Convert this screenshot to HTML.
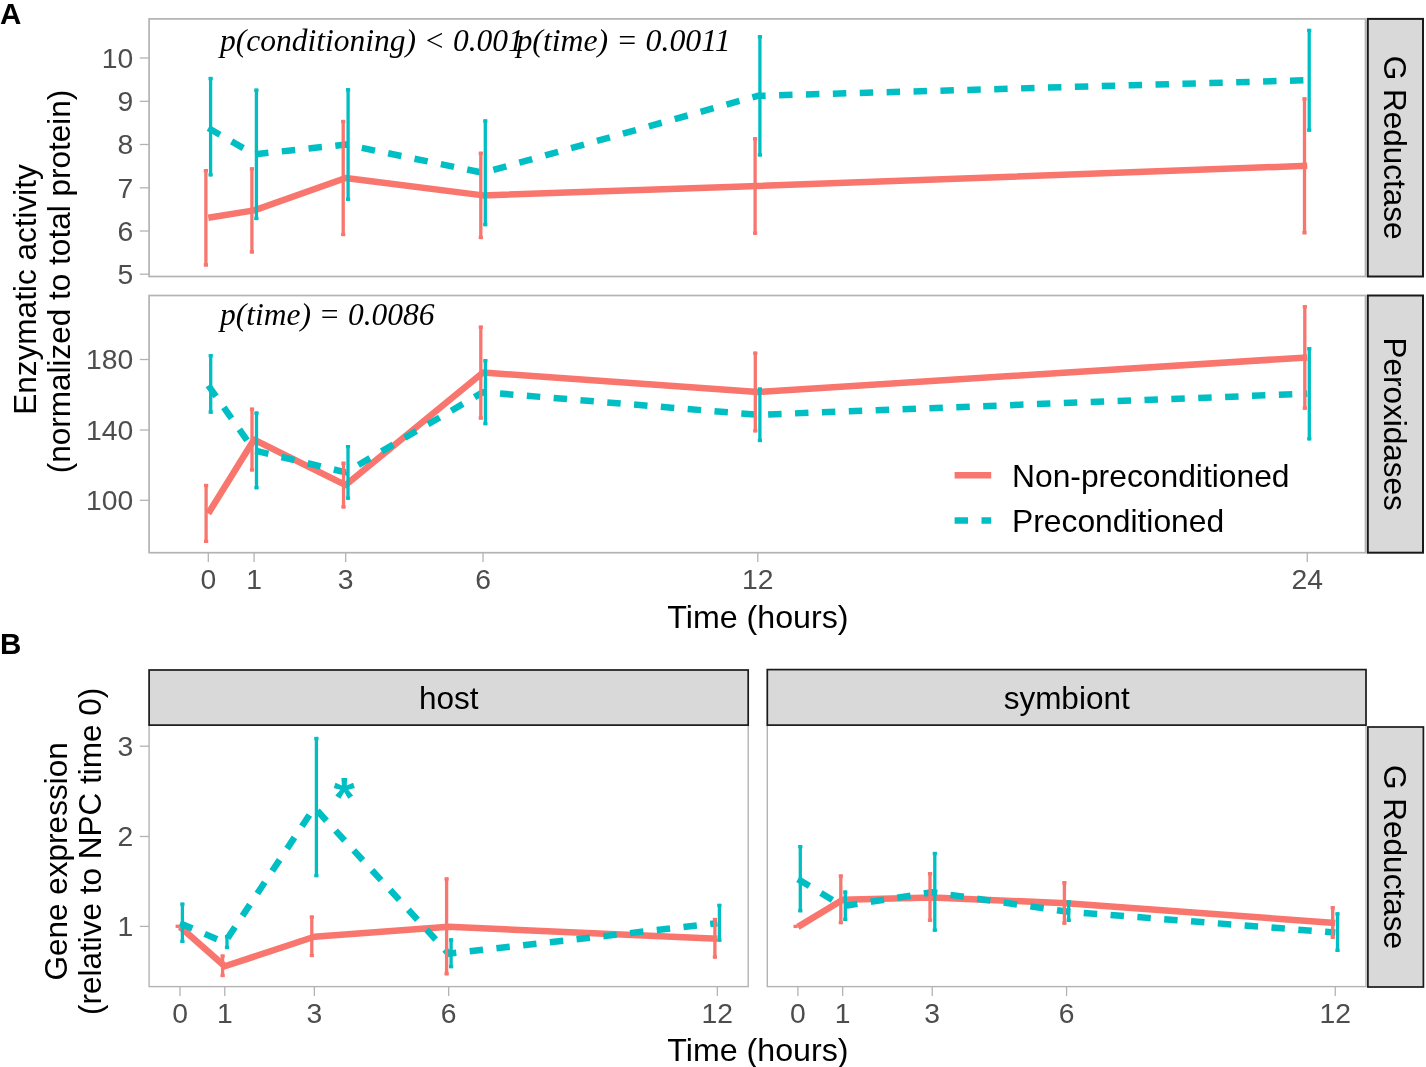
<!DOCTYPE html>
<html><head><meta charset="utf-8"><style>
html,body{margin:0;padding:0;background:#fff;width:1426px;height:1067px;overflow:hidden;position:relative}
</style></head><body>
<svg width="1426" height="1067" viewBox="0 0 1426 1067" style="position:absolute;left:0;top:0;will-change:transform">
<rect width="1426" height="1067" fill="#fff"/>
<rect x="149.1" y="18.9" width="1216.4" height="257.6" fill="none" stroke="#B3B3B3" stroke-width="1.7"/>
<rect x="149.1" y="295.5" width="1216.4" height="257.2" fill="none" stroke="#B3B3B3" stroke-width="1.7"/>
<line x1="139.8" y1="58.0" x2="149.1" y2="58.0" stroke="#B3B3B3" stroke-width="1.3"/>
<text x="133.2" y="67.90" text-anchor="end" font-family='"Liberation Sans", sans-serif' font-size="28.3" fill="#4D4D4D">10</text>
<line x1="139.8" y1="101.3" x2="149.1" y2="101.3" stroke="#B3B3B3" stroke-width="1.3"/>
<text x="133.2" y="111.20" text-anchor="end" font-family='"Liberation Sans", sans-serif' font-size="28.3" fill="#4D4D4D">9</text>
<line x1="139.8" y1="144.5" x2="149.1" y2="144.5" stroke="#B3B3B3" stroke-width="1.3"/>
<text x="133.2" y="154.40" text-anchor="end" font-family='"Liberation Sans", sans-serif' font-size="28.3" fill="#4D4D4D">8</text>
<line x1="139.8" y1="187.8" x2="149.1" y2="187.8" stroke="#B3B3B3" stroke-width="1.3"/>
<text x="133.2" y="197.70" text-anchor="end" font-family='"Liberation Sans", sans-serif' font-size="28.3" fill="#4D4D4D">7</text>
<line x1="139.8" y1="231.0" x2="149.1" y2="231.0" stroke="#B3B3B3" stroke-width="1.3"/>
<text x="133.2" y="240.90" text-anchor="end" font-family='"Liberation Sans", sans-serif' font-size="28.3" fill="#4D4D4D">6</text>
<line x1="139.8" y1="274.2" x2="149.1" y2="274.2" stroke="#B3B3B3" stroke-width="1.3"/>
<text x="133.2" y="284.10" text-anchor="end" font-family='"Liberation Sans", sans-serif' font-size="28.3" fill="#4D4D4D">5</text>
<line x1="139.8" y1="359.5" x2="149.1" y2="359.5" stroke="#B3B3B3" stroke-width="1.3"/>
<text x="133.2" y="369.40" text-anchor="end" font-family='"Liberation Sans", sans-serif' font-size="28.3" fill="#4D4D4D">180</text>
<line x1="139.8" y1="430.0" x2="149.1" y2="430.0" stroke="#B3B3B3" stroke-width="1.3"/>
<text x="133.2" y="439.90" text-anchor="end" font-family='"Liberation Sans", sans-serif' font-size="28.3" fill="#4D4D4D">140</text>
<line x1="139.8" y1="500.3" x2="149.1" y2="500.3" stroke="#B3B3B3" stroke-width="1.3"/>
<text x="133.2" y="510.20" text-anchor="end" font-family='"Liberation Sans", sans-serif' font-size="28.3" fill="#4D4D4D">100</text>
<line x1="208.3" y1="552.7" x2="208.3" y2="562.0" stroke="#B3B3B3" stroke-width="1.3"/>
<text x="208.30" y="588.8" text-anchor="middle" font-family='"Liberation Sans", sans-serif' font-size="28.3" fill="#4D4D4D">0</text>
<line x1="254.09" y1="552.7" x2="254.09" y2="562.0" stroke="#B3B3B3" stroke-width="1.3"/>
<text x="254.09" y="588.8" text-anchor="middle" font-family='"Liberation Sans", sans-serif' font-size="28.3" fill="#4D4D4D">1</text>
<line x1="345.67" y1="552.7" x2="345.67" y2="562.0" stroke="#B3B3B3" stroke-width="1.3"/>
<text x="345.67" y="588.8" text-anchor="middle" font-family='"Liberation Sans", sans-serif' font-size="28.3" fill="#4D4D4D">3</text>
<line x1="483.04" y1="552.7" x2="483.04" y2="562.0" stroke="#B3B3B3" stroke-width="1.3"/>
<text x="483.04" y="588.8" text-anchor="middle" font-family='"Liberation Sans", sans-serif' font-size="28.3" fill="#4D4D4D">6</text>
<line x1="757.78" y1="552.7" x2="757.78" y2="562.0" stroke="#B3B3B3" stroke-width="1.3"/>
<text x="757.78" y="588.8" text-anchor="middle" font-family='"Liberation Sans", sans-serif' font-size="28.3" fill="#4D4D4D">12</text>
<line x1="1307.26" y1="552.7" x2="1307.26" y2="562.0" stroke="#B3B3B3" stroke-width="1.3"/>
<text x="1307.26" y="588.8" text-anchor="middle" font-family='"Liberation Sans", sans-serif' font-size="28.3" fill="#4D4D4D">24</text>
<polyline points="208.30,217.75 254.09,210.40 345.67,178.00 483.04,195.40 757.78,186.00 1307.26,165.80" fill="none" stroke="#F8766D" stroke-width="6.5" stroke-linejoin="round" stroke-linecap="butt"/>
<polyline points="208.30,128.00 254.09,154.35 345.67,144.55 483.04,172.80 757.78,95.85 1307.26,80.25" fill="none" stroke="#00BFC4" stroke-width="6.5" stroke-linejoin="round" stroke-linecap="butt" stroke-dasharray="13.45 13.45"/>
<polyline points="208.30,513.45 254.09,439.55 345.67,485.10 483.04,372.60 757.78,392.00 1307.26,357.40" fill="none" stroke="#F8766D" stroke-width="6.5" stroke-linejoin="round" stroke-linecap="butt"/>
<polyline points="208.30,385.50 254.09,450.40 345.67,472.35 483.04,392.15 757.78,414.80 1307.26,393.75" fill="none" stroke="#00BFC4" stroke-width="6.5" stroke-linejoin="round" stroke-linecap="butt" stroke-dasharray="13.45 13.45"/>
<rect x="208.95" y="76.90" width="3.3" height="99.50" fill="#00BFC4"/>
<rect x="208.50" y="76.90" width="4.2" height="3.3" fill="#00BFC4"/>
<rect x="208.50" y="173.10" width="4.2" height="3.3" fill="#00BFC4"/>
<rect x="254.75" y="88.60" width="3.3" height="131.50" fill="#00BFC4"/>
<rect x="254.30" y="88.60" width="4.2" height="3.3" fill="#00BFC4"/>
<rect x="254.30" y="216.80" width="4.2" height="3.3" fill="#00BFC4"/>
<rect x="346.45" y="88.20" width="3.3" height="112.70" fill="#00BFC4"/>
<rect x="346.00" y="88.20" width="4.2" height="3.3" fill="#00BFC4"/>
<rect x="346.00" y="197.60" width="4.2" height="3.3" fill="#00BFC4"/>
<rect x="483.65" y="119.40" width="3.3" height="106.80" fill="#00BFC4"/>
<rect x="483.20" y="119.40" width="4.2" height="3.3" fill="#00BFC4"/>
<rect x="483.20" y="222.90" width="4.2" height="3.3" fill="#00BFC4"/>
<rect x="758.25" y="35.20" width="3.3" height="121.30" fill="#00BFC4"/>
<rect x="757.80" y="35.20" width="4.2" height="3.3" fill="#00BFC4"/>
<rect x="757.80" y="153.20" width="4.2" height="3.3" fill="#00BFC4"/>
<rect x="1307.55" y="28.80" width="3.3" height="102.90" fill="#00BFC4"/>
<rect x="1307.10" y="28.80" width="4.2" height="3.3" fill="#00BFC4"/>
<rect x="1307.10" y="128.40" width="4.2" height="3.3" fill="#00BFC4"/>
<rect x="204.25" y="169.00" width="3.3" height="97.50" fill="#F8766D"/>
<rect x="203.80" y="169.00" width="4.2" height="3.3" fill="#F8766D"/>
<rect x="203.80" y="263.20" width="4.2" height="3.3" fill="#F8766D"/>
<rect x="250.25" y="167.30" width="3.3" height="86.20" fill="#F8766D"/>
<rect x="249.80" y="167.30" width="4.2" height="3.3" fill="#F8766D"/>
<rect x="249.80" y="250.20" width="4.2" height="3.3" fill="#F8766D"/>
<rect x="341.55" y="119.90" width="3.3" height="116.20" fill="#F8766D"/>
<rect x="341.10" y="119.90" width="4.2" height="3.3" fill="#F8766D"/>
<rect x="341.10" y="232.80" width="4.2" height="3.3" fill="#F8766D"/>
<rect x="479.15" y="151.70" width="3.3" height="87.40" fill="#F8766D"/>
<rect x="478.70" y="151.70" width="4.2" height="3.3" fill="#F8766D"/>
<rect x="478.70" y="235.80" width="4.2" height="3.3" fill="#F8766D"/>
<rect x="753.45" y="137.20" width="3.3" height="97.60" fill="#F8766D"/>
<rect x="753.00" y="137.20" width="4.2" height="3.3" fill="#F8766D"/>
<rect x="753.00" y="231.50" width="4.2" height="3.3" fill="#F8766D"/>
<rect x="1302.85" y="97.30" width="3.3" height="137.00" fill="#F8766D"/>
<rect x="1302.40" y="97.30" width="4.2" height="3.3" fill="#F8766D"/>
<rect x="1302.40" y="231.00" width="4.2" height="3.3" fill="#F8766D"/>
<rect x="209.05" y="354.10" width="3.3" height="59.60" fill="#00BFC4"/>
<rect x="208.60" y="354.10" width="4.2" height="3.3" fill="#00BFC4"/>
<rect x="208.60" y="410.40" width="4.2" height="3.3" fill="#00BFC4"/>
<rect x="254.85" y="411.50" width="3.3" height="77.80" fill="#00BFC4"/>
<rect x="254.40" y="411.50" width="4.2" height="3.3" fill="#00BFC4"/>
<rect x="254.40" y="486.00" width="4.2" height="3.3" fill="#00BFC4"/>
<rect x="346.35" y="445.00" width="3.3" height="54.70" fill="#00BFC4"/>
<rect x="345.90" y="445.00" width="4.2" height="3.3" fill="#00BFC4"/>
<rect x="345.90" y="496.40" width="4.2" height="3.3" fill="#00BFC4"/>
<rect x="483.75" y="359.10" width="3.3" height="66.10" fill="#00BFC4"/>
<rect x="483.30" y="359.10" width="4.2" height="3.3" fill="#00BFC4"/>
<rect x="483.30" y="421.90" width="4.2" height="3.3" fill="#00BFC4"/>
<rect x="758.25" y="387.50" width="3.3" height="54.60" fill="#00BFC4"/>
<rect x="757.80" y="387.50" width="4.2" height="3.3" fill="#00BFC4"/>
<rect x="757.80" y="438.80" width="4.2" height="3.3" fill="#00BFC4"/>
<rect x="1307.65" y="347.10" width="3.3" height="93.30" fill="#00BFC4"/>
<rect x="1307.20" y="347.10" width="4.2" height="3.3" fill="#00BFC4"/>
<rect x="1307.20" y="437.10" width="4.2" height="3.3" fill="#00BFC4"/>
<rect x="204.45" y="483.90" width="3.3" height="59.10" fill="#F8766D"/>
<rect x="204.00" y="483.90" width="4.2" height="3.3" fill="#F8766D"/>
<rect x="204.00" y="539.70" width="4.2" height="3.3" fill="#F8766D"/>
<rect x="250.35" y="407.60" width="3.3" height="63.90" fill="#F8766D"/>
<rect x="249.90" y="407.60" width="4.2" height="3.3" fill="#F8766D"/>
<rect x="249.90" y="468.20" width="4.2" height="3.3" fill="#F8766D"/>
<rect x="341.85" y="461.70" width="3.3" height="46.80" fill="#F8766D"/>
<rect x="341.40" y="461.70" width="4.2" height="3.3" fill="#F8766D"/>
<rect x="341.40" y="505.20" width="4.2" height="3.3" fill="#F8766D"/>
<rect x="479.15" y="325.60" width="3.3" height="94.00" fill="#F8766D"/>
<rect x="478.70" y="325.60" width="4.2" height="3.3" fill="#F8766D"/>
<rect x="478.70" y="416.30" width="4.2" height="3.3" fill="#F8766D"/>
<rect x="753.65" y="351.60" width="3.3" height="80.80" fill="#F8766D"/>
<rect x="753.20" y="351.60" width="4.2" height="3.3" fill="#F8766D"/>
<rect x="753.20" y="429.10" width="4.2" height="3.3" fill="#F8766D"/>
<rect x="1303.15" y="305.10" width="3.3" height="104.60" fill="#F8766D"/>
<rect x="1302.70" y="305.10" width="4.2" height="3.3" fill="#F8766D"/>
<rect x="1302.70" y="406.40" width="4.2" height="3.3" fill="#F8766D"/>
<rect x="1367.8" y="18.9" width="55.2" height="257.6" fill="#D9D9D9" stroke="#1A1A1A" stroke-width="2.0"/>
<text transform="translate(1384.10,147.70) rotate(90)" text-anchor="middle" font-family='"Liberation Sans", sans-serif' font-size="31.5" fill="#000">G Reductase</text>
<rect x="1367.8" y="295.5" width="55.2" height="257.2" fill="#D9D9D9" stroke="#1A1A1A" stroke-width="2.0"/>
<text transform="translate(1384.10,424.10) rotate(90)" text-anchor="middle" font-family='"Liberation Sans", sans-serif' font-size="31.5" fill="#000">Peroxidases</text>
<text x="220" y="51.3" font-family='"Liberation Serif", serif' font-style="italic" font-size="31.5" fill="#000">p(conditioning) &lt; 0.001</text>
<text x="516.4" y="51.3" font-family='"Liberation Serif", serif' font-style="italic" font-size="31.8" fill="#000">p(time) = 0.0011</text>
<text x="220" y="325.1" font-family='"Liberation Serif", serif' font-style="italic" font-size="31.5" fill="#000">p(time) = 0.0086</text>
<line x1="954.6" y1="475.3" x2="991.2" y2="475.3" stroke="#F8766D" stroke-width="6.5"/>
<line x1="954.6" y1="520.5" x2="991.2" y2="520.5" stroke="#00BFC4" stroke-width="6.5" stroke-dasharray="13.45 13.45"/>
<text x="1012" y="486.6" font-family='"Liberation Sans", sans-serif' font-size="31.8" fill="#000">Non-preconditioned</text>
<text x="1012" y="531.5" font-family='"Liberation Sans", sans-serif' font-size="31.8" fill="#000">Preconditioned</text>
<text x="757.9" y="627.8" text-anchor="middle" font-family='"Liberation Sans", sans-serif' font-size="32.2" fill="#000">Time (hours)</text>
<text transform="translate(36.1,289.5) rotate(-90)" text-anchor="middle" font-family='"Liberation Sans", sans-serif' font-size="31.5" fill="#000">Enzymatic activity</text>
<text transform="translate(69.8,281.5) rotate(-90)" text-anchor="middle" font-family='"Liberation Sans", sans-serif' font-size="31.5" fill="#000">(normalized to total protein)</text>
<text x="0" y="23.9" font-family='"Liberation Sans", sans-serif' font-weight="bold" font-size="29.5" fill="#000">A</text>
<text x="0" y="653.7" font-family='"Liberation Sans", sans-serif' font-weight="bold" font-size="29.5" fill="#000">B</text>
<rect x="149.1" y="725.1" width="599.1" height="261.5" fill="none" stroke="#B3B3B3" stroke-width="1.4"/>
<rect x="767.3" y="725.1" width="598.7" height="261.5" fill="none" stroke="#B3B3B3" stroke-width="1.4"/>
<line x1="139.8" y1="746.2" x2="149.1" y2="746.2" stroke="#B3B3B3" stroke-width="1.3"/>
<text x="133.2" y="756.10" text-anchor="end" font-family='"Liberation Sans", sans-serif' font-size="28.3" fill="#4D4D4D">3</text>
<line x1="139.8" y1="836.5" x2="149.1" y2="836.5" stroke="#B3B3B3" stroke-width="1.3"/>
<text x="133.2" y="846.40" text-anchor="end" font-family='"Liberation Sans", sans-serif' font-size="28.3" fill="#4D4D4D">2</text>
<line x1="139.8" y1="926.4" x2="149.1" y2="926.4" stroke="#B3B3B3" stroke-width="1.3"/>
<text x="133.2" y="936.30" text-anchor="end" font-family='"Liberation Sans", sans-serif' font-size="28.3" fill="#4D4D4D">1</text>
<line x1="180.0" y1="986.6" x2="180.0" y2="995.9" stroke="#B3B3B3" stroke-width="1.3"/>
<text x="180.00" y="1023.0" text-anchor="middle" font-family='"Liberation Sans", sans-serif' font-size="28.3" fill="#4D4D4D">0</text>
<line x1="224.78" y1="986.6" x2="224.78" y2="995.9" stroke="#B3B3B3" stroke-width="1.3"/>
<text x="224.78" y="1023.0" text-anchor="middle" font-family='"Liberation Sans", sans-serif' font-size="28.3" fill="#4D4D4D">1</text>
<line x1="314.34" y1="986.6" x2="314.34" y2="995.9" stroke="#B3B3B3" stroke-width="1.3"/>
<text x="314.34" y="1023.0" text-anchor="middle" font-family='"Liberation Sans", sans-serif' font-size="28.3" fill="#4D4D4D">3</text>
<line x1="448.68" y1="986.6" x2="448.68" y2="995.9" stroke="#B3B3B3" stroke-width="1.3"/>
<text x="448.68" y="1023.0" text-anchor="middle" font-family='"Liberation Sans", sans-serif' font-size="28.3" fill="#4D4D4D">6</text>
<line x1="717.36" y1="986.6" x2="717.36" y2="995.9" stroke="#B3B3B3" stroke-width="1.3"/>
<text x="717.36" y="1023.0" text-anchor="middle" font-family='"Liberation Sans", sans-serif' font-size="28.3" fill="#4D4D4D">12</text>
<line x1="797.9" y1="986.6" x2="797.9" y2="995.9" stroke="#B3B3B3" stroke-width="1.3"/>
<text x="797.90" y="1023.0" text-anchor="middle" font-family='"Liberation Sans", sans-serif' font-size="28.3" fill="#4D4D4D">0</text>
<line x1="842.68" y1="986.6" x2="842.68" y2="995.9" stroke="#B3B3B3" stroke-width="1.3"/>
<text x="842.68" y="1023.0" text-anchor="middle" font-family='"Liberation Sans", sans-serif' font-size="28.3" fill="#4D4D4D">1</text>
<line x1="932.24" y1="986.6" x2="932.24" y2="995.9" stroke="#B3B3B3" stroke-width="1.3"/>
<text x="932.24" y="1023.0" text-anchor="middle" font-family='"Liberation Sans", sans-serif' font-size="28.3" fill="#4D4D4D">3</text>
<line x1="1066.58" y1="986.6" x2="1066.58" y2="995.9" stroke="#B3B3B3" stroke-width="1.3"/>
<text x="1066.58" y="1023.0" text-anchor="middle" font-family='"Liberation Sans", sans-serif' font-size="28.3" fill="#4D4D4D">6</text>
<line x1="1335.26" y1="986.6" x2="1335.26" y2="995.9" stroke="#B3B3B3" stroke-width="1.3"/>
<text x="1335.26" y="1023.0" text-anchor="middle" font-family='"Liberation Sans", sans-serif' font-size="28.3" fill="#4D4D4D">12</text>
<polyline points="180.00,926.80 224.78,966.25 314.34,936.75 448.68,926.80 717.36,938.70" fill="none" stroke="#F8766D" stroke-width="6.5" stroke-linejoin="round" stroke-linecap="butt"/>
<polyline points="180.00,923.25 224.78,942.50 314.34,807.50 448.68,953.70 717.36,923.20" fill="none" stroke="#00BFC4" stroke-width="6.5" stroke-linejoin="round" stroke-linecap="butt" stroke-dasharray="13.45 13.45"/>
<polyline points="797.90,926.90 842.68,899.80 932.24,897.40 1066.58,903.35 1335.26,922.95" fill="none" stroke="#F8766D" stroke-width="6.5" stroke-linejoin="round" stroke-linecap="butt"/>
<polyline points="797.90,879.10 842.68,906.20 932.24,892.25 1066.58,911.55 1335.26,932.55" fill="none" stroke="#00BFC4" stroke-width="6.5" stroke-linejoin="round" stroke-linecap="butt" stroke-dasharray="13.45 13.45"/>
<rect x="180.75" y="902.60" width="3.3" height="40.40" fill="#00BFC4"/>
<rect x="180.30" y="902.60" width="4.2" height="3.3" fill="#00BFC4"/>
<rect x="180.30" y="939.70" width="4.2" height="3.3" fill="#00BFC4"/>
<rect x="225.35" y="935.00" width="3.3" height="14.10" fill="#00BFC4"/>
<rect x="224.90" y="935.00" width="4.2" height="3.3" fill="#00BFC4"/>
<rect x="224.90" y="945.80" width="4.2" height="3.3" fill="#00BFC4"/>
<rect x="314.75" y="736.90" width="3.3" height="140.30" fill="#00BFC4"/>
<rect x="314.30" y="736.90" width="4.2" height="3.3" fill="#00BFC4"/>
<rect x="314.30" y="873.90" width="4.2" height="3.3" fill="#00BFC4"/>
<rect x="449.45" y="938.30" width="3.3" height="29.90" fill="#00BFC4"/>
<rect x="449.00" y="938.30" width="4.2" height="3.3" fill="#00BFC4"/>
<rect x="449.00" y="964.90" width="4.2" height="3.3" fill="#00BFC4"/>
<rect x="717.75" y="903.80" width="3.3" height="37.90" fill="#00BFC4"/>
<rect x="717.30" y="903.80" width="4.2" height="3.3" fill="#00BFC4"/>
<rect x="717.30" y="938.40" width="4.2" height="3.3" fill="#00BFC4"/>
<rect x="175.60" y="924.65" width="4.2" height="3.3" fill="#F8766D"/>
<rect x="220.95" y="954.50" width="3.3" height="22.60" fill="#F8766D"/>
<rect x="220.50" y="954.50" width="4.2" height="3.3" fill="#F8766D"/>
<rect x="220.50" y="973.80" width="4.2" height="3.3" fill="#F8766D"/>
<rect x="310.15" y="915.50" width="3.3" height="41.60" fill="#F8766D"/>
<rect x="309.70" y="915.50" width="4.2" height="3.3" fill="#F8766D"/>
<rect x="309.70" y="953.80" width="4.2" height="3.3" fill="#F8766D"/>
<rect x="444.95" y="877.40" width="3.3" height="97.90" fill="#F8766D"/>
<rect x="444.50" y="877.40" width="4.2" height="3.3" fill="#F8766D"/>
<rect x="444.50" y="972.00" width="4.2" height="3.3" fill="#F8766D"/>
<rect x="713.25" y="917.90" width="3.3" height="40.70" fill="#F8766D"/>
<rect x="712.80" y="917.90" width="4.2" height="3.3" fill="#F8766D"/>
<rect x="712.80" y="955.30" width="4.2" height="3.3" fill="#F8766D"/>
<rect x="798.65" y="845.00" width="3.3" height="67.30" fill="#00BFC4"/>
<rect x="798.20" y="845.00" width="4.2" height="3.3" fill="#00BFC4"/>
<rect x="798.20" y="909.00" width="4.2" height="3.3" fill="#00BFC4"/>
<rect x="843.65" y="890.50" width="3.3" height="30.50" fill="#00BFC4"/>
<rect x="843.20" y="890.50" width="4.2" height="3.3" fill="#00BFC4"/>
<rect x="843.20" y="917.70" width="4.2" height="3.3" fill="#00BFC4"/>
<rect x="933.15" y="851.90" width="3.3" height="79.80" fill="#00BFC4"/>
<rect x="932.70" y="851.90" width="4.2" height="3.3" fill="#00BFC4"/>
<rect x="932.70" y="928.40" width="4.2" height="3.3" fill="#00BFC4"/>
<rect x="1067.05" y="900.30" width="3.3" height="21.60" fill="#00BFC4"/>
<rect x="1066.60" y="900.30" width="4.2" height="3.3" fill="#00BFC4"/>
<rect x="1066.60" y="918.60" width="4.2" height="3.3" fill="#00BFC4"/>
<rect x="1335.85" y="912.30" width="3.3" height="39.60" fill="#00BFC4"/>
<rect x="1335.40" y="912.30" width="4.2" height="3.3" fill="#00BFC4"/>
<rect x="1335.40" y="948.60" width="4.2" height="3.3" fill="#00BFC4"/>
<rect x="793.50" y="924.75" width="4.2" height="3.3" fill="#F8766D"/>
<rect x="839.15" y="874.50" width="3.3" height="49.70" fill="#F8766D"/>
<rect x="838.70" y="874.50" width="4.2" height="3.3" fill="#F8766D"/>
<rect x="838.70" y="920.90" width="4.2" height="3.3" fill="#F8766D"/>
<rect x="928.35" y="872.10" width="3.3" height="49.70" fill="#F8766D"/>
<rect x="927.90" y="872.10" width="4.2" height="3.3" fill="#F8766D"/>
<rect x="927.90" y="918.50" width="4.2" height="3.3" fill="#F8766D"/>
<rect x="1062.75" y="881.10" width="3.3" height="43.60" fill="#F8766D"/>
<rect x="1062.30" y="881.10" width="4.2" height="3.3" fill="#F8766D"/>
<rect x="1062.30" y="921.40" width="4.2" height="3.3" fill="#F8766D"/>
<rect x="1331.05" y="906.10" width="3.3" height="32.80" fill="#F8766D"/>
<rect x="1330.60" y="906.10" width="4.2" height="3.3" fill="#F8766D"/>
<rect x="1330.60" y="935.60" width="4.2" height="3.3" fill="#F8766D"/>
<text x="344.2" y="816.4" text-anchor="middle" font-family='"Liberation Sans", sans-serif' font-weight="bold" font-size="55" fill="#00BFC4">*</text>
<rect x="149.1" y="670.0" width="599.1" height="55.1" fill="#D9D9D9" stroke="#1A1A1A" stroke-width="1.7"/>
<text x="448.65" y="708.85" text-anchor="middle" font-family='"Liberation Sans", sans-serif' font-size="31.5" fill="#000">host</text>
<rect x="767.3" y="669.6" width="598.7" height="55.5" fill="#D9D9D9" stroke="#1A1A1A" stroke-width="1.7"/>
<text x="1066.65" y="708.65" text-anchor="middle" font-family='"Liberation Sans", sans-serif' font-size="31.5" fill="#000">symbiont</text>
<rect x="1367.9" y="727.0" width="55.5" height="260.0" fill="#D9D9D9" stroke="#1A1A1A" stroke-width="1.7"/>
<text transform="translate(1384.35,857.00) rotate(90)" text-anchor="middle" font-family='"Liberation Sans", sans-serif' font-size="31.5" fill="#000">G Reductase</text>
<text x="757.9" y="1061.4" text-anchor="middle" font-family='"Liberation Sans", sans-serif' font-size="32.2" fill="#000">Time (hours)</text>
<text transform="translate(67.1,861.4) rotate(-90)" text-anchor="middle" font-family='"Liberation Sans", sans-serif' font-size="31.5" fill="#000">Gene expression</text>
<text transform="translate(100.9,851.3) rotate(-90)" text-anchor="middle" font-family='"Liberation Sans", sans-serif' font-size="31.5" fill="#000">(relative to NPC time 0)</text>
</svg>
</body></html>
